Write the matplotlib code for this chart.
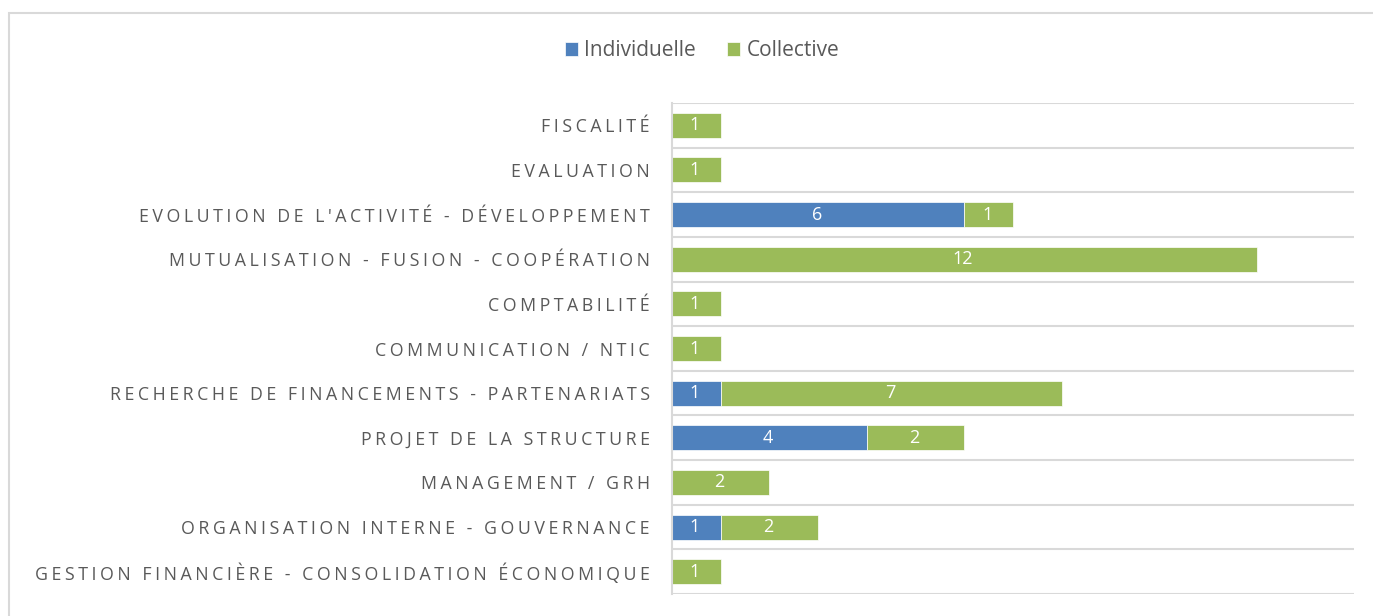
import matplotlib.pyplot as plt
import matplotlib.patches as mpatches
import numpy as np

categories = [
    "GESTION FINANCIÈRE - CONSOLIDATION ÉCONOMIQUE",
    "ORGANISATION INTERNE - GOUVERNANCE",
    "MANAGEMENT / GRH",
    "PROJET DE LA STRUCTURE",
    "RECHERCHE DE FINANCEMENTS - PARTENARIATS",
    "COMMUNICATION / NTIC",
    "COMPTABILITÉ",
    "MUTUALISATION - FUSION - COOPÉRATION",
    "EVOLUTION DE L'ACTIVITÉ - DÉVELOPPEMENT",
    "EVALUATION",
    "FISCALITÉ",
]
individuelle = [0, 1, 0, 4, 1, 0, 0, 0, 6, 0, 0]
collective = [1, 2, 2, 2, 7, 1, 1, 12, 1, 1, 1]

blue = "#4F81BD"
green = "#9BBB59"
grey = "#595959"
grid = "#D9D9D9"

plt.rcParams['font.family'] = ['Open Sans', 'DejaVu Sans']

fig = plt.figure(figsize=(13.73, 6.16), dpi=100)
ax = fig.add_axes([672 / 1373, 22 / 616, 682 / 1373, 491 / 616])

# chart border
fig.patches.append(mpatches.Rectangle((9 / 1373, -0.1), 1.2, (616 - 13) / 616 + 0.1,
                                      transform=fig.transFigure, fill=False,
                                      edgecolor=grid, linewidth=1.5))

y = np.arange(len(categories))
ind = np.array(individuelle)
col = np.array(collective)
b1 = ax.barh(y, ind, height=0.56, color=blue, edgecolor="white", linewidth=0.5,
             label="Individuelle")
b2 = ax.barh(y, col, left=ind, height=0.56, color=green, edgecolor="white", linewidth=0.5,
             label="Collective")

for bars, vals in ((b1, ind), (b2, col)):
    labels = [str(v) if v > 0 else "" for v in vals]
    ax.bar_label(bars, labels=labels, label_type="center", color="white", fontsize=13,
                 padding=-1)

ax.set_xlim(0, 14)
ax.set_ylim(-0.5, len(categories) - 0.5)
ax.set_xticks([])
ax.set_yticks(y)
# letter-spaced labels
spaced = ["\u200a\u200a".join(c) for c in categories]
ax.set_yticklabels(spaced, fontsize=12.8, color=grey)
ax.tick_params(axis="y", length=0, pad=16)
ax.set_yticks(np.arange(-0.5, len(categories)), minor=True)
ax.tick_params(axis="y", which="minor", length=0)
ax.grid(which="minor", axis="y", color=grid, linewidth=1.5)
ax.set_axisbelow(True)
for s in ("top", "right", "bottom"):
    ax.spines[s].set_visible(False)
ax.spines["left"].set_color(grid)
ax.spines["left"].set_linewidth(1.5)

fig.legend(handles=[b1, b2], loc="center", bbox_to_anchor=(702 / 1373, 1 - 51 / 616),
           ncol=2, frameon=False, fontsize=15, labelcolor=grey,
           handlelength=0.62, handleheight=0.62, handletextpad=0.3, columnspacing=1.5)

fig.savefig("out.png", dpi=100)
